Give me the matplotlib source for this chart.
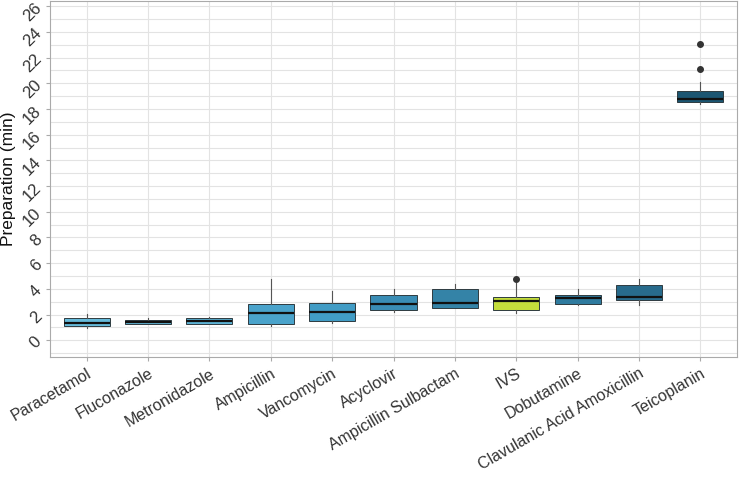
import matplotlib
matplotlib.use("Agg")
import matplotlib.pyplot as plt
from matplotlib.ticker import MultipleLocator

plt.rcParams['font.family'] = ['Liberation Sans', 'DejaVu Sans']

drugs = ['Paracetamol', 'Fluconazole', 'Metronidazole', 'Ampicillin', 'Vancomycin',
         'Acyclovir', 'Ampicillin Sulbactam', 'IVS', 'Dobutamine',
         'Clavulanic Acid Amoxicillin', 'Teicoplanin']
whisker_low = [0.98, 1.29, 1.29, 1.11, 1.37, 2.19, 2.50, 2.09, 2.77, 2.76, 18.40]
q1 = [1.11, 1.29, 1.29, 1.29, 1.50, 2.37, 2.50, 2.37, 2.84, 3.17, 18.52]
medians = [1.37, 1.45, 1.50, 2.11, 2.17, 2.81, 2.94, 3.04, 3.27, 3.33, 18.78]
q3 = [1.73, 1.60, 1.73, 2.84, 2.92, 3.54, 4.02, 3.35, 3.54, 4.31, 19.37]
whisker_high = [2.07, 1.76, 1.83, 4.77, 3.85, 4.02, 4.36, 4.42, 4.02, 4.77, 20.07]
outliers = [[], [], [], [], [], [], [], [4.77], [], [], [21.13, 23.04]]
box_colors = ['#66bbdb', '#62b8d8', '#5db3d5', '#4aa3cb', '#419cc5', '#3a8db5',
              '#3483a7', '#c4dd3c', '#2f7b9f', '#286b8c', '#1c5672']

stats = []
for i, name in enumerate(drugs):
    stats.append(dict(label=name, whislo=whisker_low[i], q1=q1[i], med=medians[i],
                      q3=q3[i], whishi=whisker_high[i], fliers=outliers[i]))

fig = plt.figure(figsize=(7.39, 4.80), dpi=100)
ax = fig.add_axes([50 / 739, 123 / 480, 687 / 739, 356 / 480])

bp = ax.bxp(stats, positions=range(1, len(drugs) + 1), widths=0.75, patch_artist=True,
            showcaps=False,
            boxprops=dict(edgecolor='#2e3b40', linewidth=0.7),
            whiskerprops=dict(color='#555555', linewidth=0.8),
            medianprops=dict(color='#111111', linewidth=1.6),
            flierprops=dict(marker='o', markersize=4, markerfacecolor='#333333',
                            markeredgecolor='#333333'))
for patch, c in zip(bp['boxes'], box_colors):
    patch.set_facecolor(c)

ax.set_xlim(0.4, len(drugs) + 0.6)
ax.set_ylim(-1.3, 26.4)
ax.yaxis.set_major_locator(MultipleLocator(2))
ax.yaxis.set_minor_locator(MultipleLocator(1))
ax.grid(True, which='both', color='#e3e3e3', linewidth=0.8)
ax.set_axisbelow(True)

ax.set_xticks(range(1, len(drugs) + 1))
ax.set_xticklabels(drugs, rotation=30, ha='right', rotation_mode='anchor',
                   fontsize=11.5, color='#333333')
ax.set_yticks(range(0, 27, 2))
ax.set_yticklabels([str(v) for v in range(0, 27, 2)], rotation=45, fontsize=12,
                   color='#333333')
ax.tick_params(axis='both', which='major', length=3, color='#aaaaaa')
ax.tick_params(axis='y', which='major', pad=1)
ax.tick_params(axis='y', which='minor', length=0)
ax.set_ylabel('Preparation (min)', fontsize=12.5, color='#111111')
ax.yaxis.set_label_coords(-0.05, 0.5)
for s in ax.spines.values():
    s.set_color('#aaaaaa')
    s.set_linewidth(0.8)

fig.savefig('out.png', dpi=100)
